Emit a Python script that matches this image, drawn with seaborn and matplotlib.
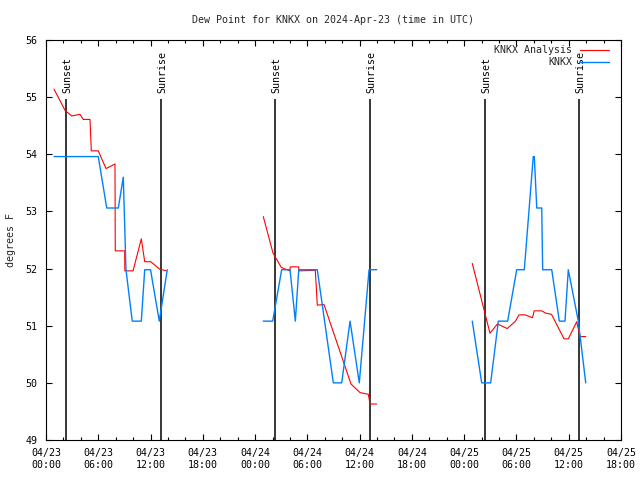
import pandas as pd
import seaborn as sns
import matplotlib
matplotlib.use("Agg")
import matplotlib.pyplot as plt
import matplotlib.dates as mdates

start = pd.Timestamp("2024-04-23 00:00")

# hours after 04/23 00:00 UTC and dew point (F), one list per night
ana_hours_1 = [0.92, 2.18, 2.95, 3.9, 4.28, 5.05, 5.2, 6.0, 6.89, 7.92, 7.95, 9.03, 9.05, 9.99, 10.94, 11.33, 12.02, 13.05, 13.81]
ana_vals_1 = [55.14, 54.77, 54.67, 54.70, 54.61, 54.61, 54.06, 54.06, 53.75, 53.83, 52.31, 52.31, 51.96, 51.96, 52.52, 52.12, 52.12, 51.99, 51.96]
ana_hours_2 = [24.94, 26.06, 27.01, 27.97, 28.04, 29.0, 29.04, 30.91, 31.14, 31.91, 35.01, 36.04, 37.0, 37.19, 37.96]
ana_vals_2 = [52.91, 52.27, 52.02, 51.96, 52.03, 52.03, 51.96, 51.97, 51.36, 51.37, 49.98, 49.83, 49.80, 49.63, 49.63]
ana_hours_3 = [48.93, 50.96, 51.82, 52.94, 53.89, 54.29, 54.98, 55.84, 56.04, 56.9, 57.36, 58.02, 59.46, 59.95, 60.92, 61.3, 61.95]
ana_vals_3 = [52.09, 50.87, 51.03, 50.95, 51.08, 51.19, 51.19, 51.14, 51.26, 51.26, 51.22, 51.20, 50.77, 50.77, 51.07, 50.81, 50.81]

obs_hours_1 = [0.92, 6.0, 6.97, 8.3, 8.87, 9.18, 9.9, 10.94, 11.33, 12.0, 13.0, 13.92]
obs_vals_1 = [53.96, 53.96, 53.06, 53.06, 53.60, 51.98, 51.08, 51.08, 51.98, 51.98, 51.08, 51.98]
obs_hours_2 = [24.94, 26.02, 27.05, 28.01, 28.62, 29.01, 31.14, 32.98, 33.94, 34.9, 35.96, 37.08, 37.96]
obs_vals_2 = [51.08, 51.08, 51.98, 51.98, 51.08, 51.98, 51.98, 50.0, 50.0, 51.08, 50.0, 51.98, 51.98]
obs_hours_3 = [48.93, 50.01, 51.04, 51.92, 52.99, 54.03, 54.9, 55.93, 56.05, 56.33, 56.9, 57.01, 58.05, 58.92, 59.57, 59.95, 61.1, 61.95]
obs_vals_3 = [51.08, 50.0, 50.0, 51.08, 51.08, 51.98, 51.98, 53.96, 53.96, 53.06, 53.06, 51.98, 51.98, 51.08, 51.08, 51.98, 51.08, 50.0]

sunset_hours = [2.33, 26.32, 50.42]
sunrise_hours = [13.23, 37.22, 61.21]

sns.set_style("ticks")
plt.rcParams['font.family'] = ['DejaVu Sans Mono']
fs = 7.2

fig = plt.figure(figsize=(6.4, 4.8), dpi=100)
ax = fig.add_axes([46 / 640, 1 - 440 / 480, 575 / 640, 400 / 480])

def to_time(hours):
    return start + pd.to_timedelta(hours, unit="h")

# sunrise / sunset markers
for hrs, name in [(sunset_hours, "Sunset"), (sunrise_hours, "Sunrise")]:
    for h in hrs:
        t = to_time(h)
        ax.vlines(t, 49, 54.96, color="black", lw=1.1, zorder=1)
        ax.text(t + pd.Timedelta(minutes=10), 55.08, name, rotation=90, ha="center", va="bottom",
                fontsize=fs, color="black")

ana = [(ana_hours_1, ana_vals_1), (ana_hours_2, ana_vals_2), (ana_hours_3, ana_vals_3)]
obs = [(obs_hours_1, obs_vals_1), (obs_hours_2, obs_vals_2), (obs_hours_3, obs_vals_3)]

for i, (h, v) in enumerate(ana):
    df = pd.DataFrame({"time": to_time(h), "dewp": v})
    sns.lineplot(data=df, x="time", y="dewp", ax=ax, color="#ff0000", lw=0.8,
                 label="KNKX Analysis" if i == 0 else None, sort=False, zorder=2)
for i, (h, v) in enumerate(obs):
    df = pd.DataFrame({"time": to_time(h), "dewp": v})
    sns.lineplot(data=df, x="time", y="dewp", ax=ax, color="#0080ff", lw=1.0,
                 label="KNKX" if i == 0 else None, sort=False, zorder=3)

ax.set_xlim(start, start + pd.Timedelta(hours=66))
ax.set_ylim(49, 56)
ax.xaxis.set_major_locator(mdates.HourLocator(byhour=[0, 6, 12, 18]))
ax.xaxis.set_minor_locator(mdates.HourLocator(byhour=list(range(0, 24, 2))))
ax.xaxis.set_major_formatter(mdates.DateFormatter("%m/%d\n%H:%M"))
ax.set_yticks(range(49, 57))

ax.tick_params(which="both", direction="in", top=True, right=True, colors="black", labelsize=fs)
ax.tick_params(which="major", length=4.5, width=0.8)
ax.tick_params(which="minor", length=2.5, width=0.8)
ax.tick_params(axis="x", pad=6)
ax.tick_params(axis="y", pad=6)
for s in ax.spines.values():
    s.set_visible(True)
    s.set_color("black")
    s.set_linewidth(0.8)

ax.set_xlabel("")
ax.set_ylabel("degrees F", fontsize=fs, labelpad=7)
ax.set_title("Dew Point for KNKX on 2024-Apr-23 (time in UTC)", fontsize=fs, pad=12)

ax.legend(loc="upper right", bbox_to_anchor=(609 / 640, 1 - 45 / 480), bbox_transform=fig.transFigure,
          frameon=False, markerfirst=False, fontsize=fs, handlelength=2.9, handletextpad=0.8,
          labelspacing=0.2, borderpad=0, borderaxespad=0)

fig.savefig("out.png", dpi=100)
